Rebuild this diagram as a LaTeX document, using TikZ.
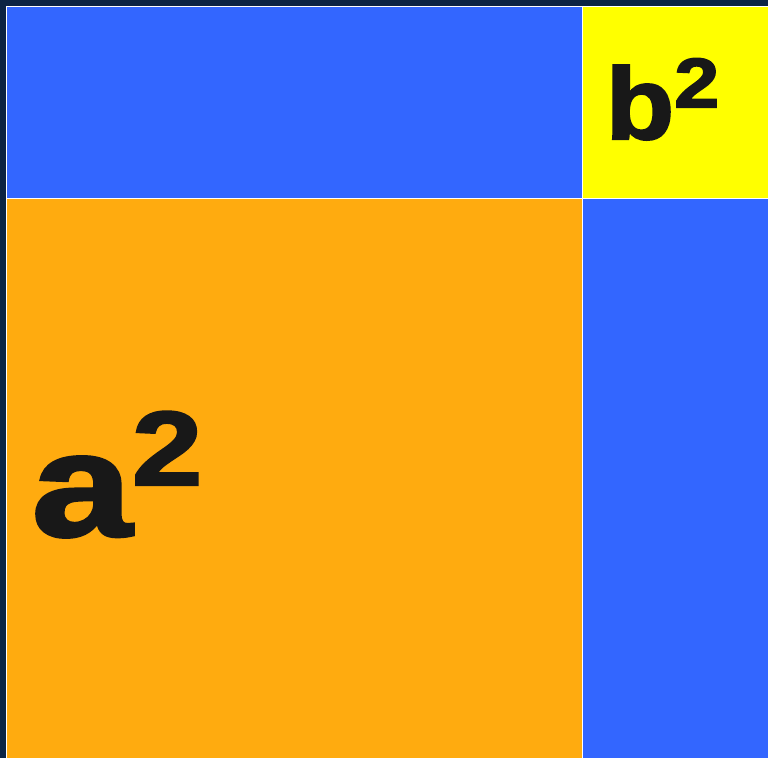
\documentclass[tikz,border=0pt]{standalone}
\usepackage{fontspec}
\newfontfamily\heavy[FakeBold=2]{Liberation Sans Bold}
\usetikzlibrary{positioning}
\definecolor{framenavy}{RGB}{12,36,68}
\definecolor{sqblue}{RGB}{51,102,255}
\definecolor{sqyellow}{RGB}{255,255,0}
\definecolor{sqorange}{RGB}{255,171,15}
\definecolor{txtdark}{RGB}{24,24,24}

\begin{document}
\begin{tikzpicture}[
  x=0.01cm, y=-0.01cm,
  lbl/.style={inner sep=0pt, anchor=base west, text=txtdark}
]
  \useasboundingbox (0,0) rectangle (768,758);
  % frame and white rules
  \fill[framenavy] (0,0) rectangle (768,758);
  \fill[white] (6,6) rectangle (768,758);
  % the four pieces
  \fill[sqblue]   (7,7)     rectangle (582,198);
  \fill[sqyellow] (583.3,7) rectangle (768,198);
  \fill[sqorange] (7,199.3) rectangle (582,758);
  \fill[sqblue]   (583.3,199.3) rectangle (768,758);
  % labels
  \node[lbl] (asq) at (31,536) {\heavy\scalebox{1.22}[1]{\fontsize{42}{42}\selectfont a}\raisebox{14.5pt}{\scalebox{1.2}[1]{\fontsize{30}{30}\selectfont 2}}};
  \node[lbl] (bsq) at (605,139) {\heavy\scalebox{1.1}[1]{\fontsize{29}{29}\selectfont b}\raisebox{9pt}{\scalebox{1.15}[1]{\fontsize{20}{20}\selectfont 2}}};
\end{tikzpicture}
\end{document}
